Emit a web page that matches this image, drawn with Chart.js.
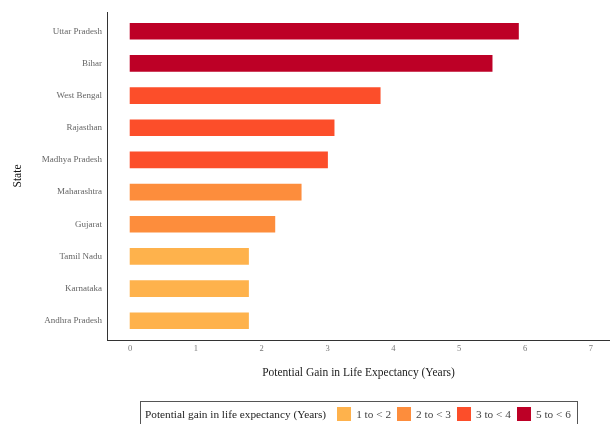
<!DOCTYPE html>
<html>
<head>
<meta charset="utf-8">
<script src="https://cdn.jsdelivr.net/npm/chart.js@4/dist/chart.umd.min.js"></script>
<style>
  html, body { margin: 0; padding: 0; background: #fff; overflow: hidden; }
  #wrap { position: relative; width: 610px; height: 424px; }
  #legend {
    position: absolute; left: 140px; top: 401px; width: 438px; height: 30px;
    border: 1px solid #555; box-sizing: border-box;
    font-family: "Liberation Serif", "DejaVu Serif", serif; font-size: 11.3px; color: #222;
    display: flex; align-items: flex-start; padding: 5px 0 0 4px; white-space: nowrap;
  }
  #legend .sw { display: inline-block; width: 14px; height: 14px; margin: 0 5px 0 6px; }
  #legend span.lbl { line-height: 14px; color: #444; }
  #legend span.ttl { line-height: 14px; margin-right: 5px; }
</style>
</head>
<body>
<div id="wrap">
  <canvas id="chart" width="610" height="424"></canvas>
  <div id="legend"></div>
</div>
<script>
// Data
const states = ['Uttar Pradesh', 'Bihar', 'West Bengal', 'Rajasthan', 'Madhya Pradesh',
                'Maharashtra', 'Gujarat', 'Tamil Nadu', 'Karnataka', 'Andhra Pradesh'];
const gains = [5.9, 5.5, 3.8, 3.1, 3.0, 2.6, 2.2, 1.8, 1.8, 1.8];
const stateBands = ['5 to < 6', '5 to < 6', '3 to < 4', '3 to < 4', '3 to < 4',
                    '2 to < 3', '2 to < 3', '1 to < 2', '1 to < 2', '1 to < 2'];
const bandLabels = ['1 to < 2', '2 to < 3', '3 to < 4', '5 to < 6'];
const bandColors = ['#FEB24C', '#FD8D3C', '#FC4E2A', '#BD0026'];
const xTicks = [0, 1, 2, 3, 4, 5, 6, 7];

const serif = '"Liberation Serif", "DejaVu Serif", serif';

// Legend (title and bands in one row)
const legend = document.getElementById('legend');
let html = '<span class="ttl">Potential gain in life expectancy (Years)</span>';
bandLabels.forEach((b, i) => {
    html += '<span class="sw" style="background:' + bandColors[i] + '"></span><span class="lbl">' +
        b.replace('<', '&lt;') + '</span>';
});
legend.innerHTML = html;

const points = states.map((s, i) => ({ x: gains[i], y: i + 1 }));
const colors = stateBands.map(b => bandColors[bandLabels.indexOf(b)]);

new Chart(document.getElementById('chart'), {
    type: 'bar',
    data: {
        datasets: [{
            data: points,
            backgroundColor: colors,
            borderWidth: 0,
            barThickness: 16
        }]
    },
    options: {
        indexAxis: 'y',
        responsive: false,
        animation: false,
        layout: { padding: { left: 11, top: 12, right: 0, bottom: 44 } },
        plugins: { legend: { display: false }, tooltip: { enabled: false } },
        scales: {
            x: {
                type: 'linear',
                min: -0.35,
                max: 7.29,
                afterBuildTicks: s => { s.ticks = xTicks.map(v => ({ value: v })); },
                afterFit: s => { s.height = 40; },
                grid: { display: false, drawTicks: false },
                border: { display: true, color: '#333', width: 1 },
                ticks: { color: '#777', padding: 4, font: { family: serif, size: 8.5 } },
                title: {
                    display: true,
                    text: 'Potential Gain in Life Expectancy (Years)',
                    color: '#222',
                    font: { family: serif, size: 11.5 },
                    padding: 0
                }
            },
            y: {
                type: 'linear',
                reverse: true,
                offset: false,
                min: 0.4,
                max: 10.6,
                afterBuildTicks: s => { s.ticks = states.map((st, i) => ({ value: i + 1 })); },
                afterFit: s => { s.width = 96; },
                grid: { display: false, drawTicks: false },
                border: { display: true, color: '#333', width: 1 },
                ticks: {
                    color: '#666', padding: 5, font: { family: serif, size: 9 },
                    callback: v => states[v - 1]
                },
                title: {
                    display: true,
                    text: 'State',
                    color: '#111',
                    font: { family: serif, size: 11.5 },
                    padding: 0
                }
            }
        }
    }
});
</script>
</body>
</html>
